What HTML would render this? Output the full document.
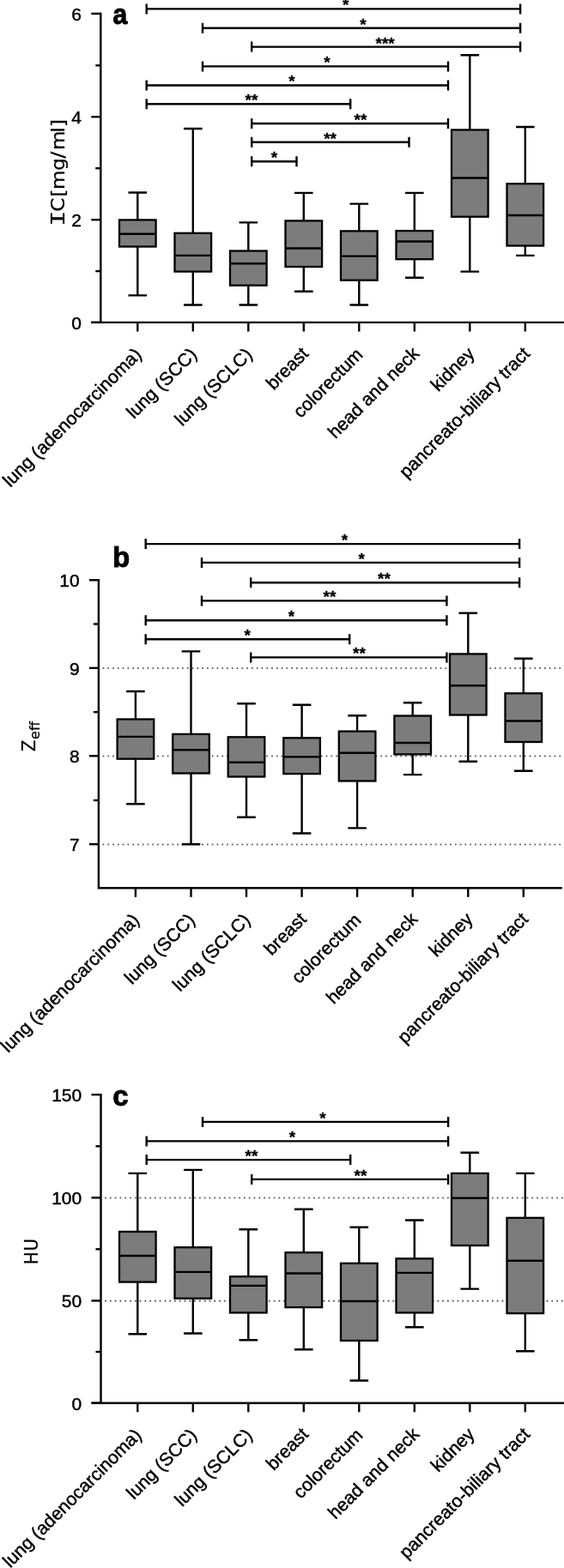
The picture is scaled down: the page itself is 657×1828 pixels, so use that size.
<!DOCTYPE html>
<html lang="en"><head><meta charset="utf-8"><title>Figure</title>
<style>
html,body{margin:0;padding:0;background:#fff}
svg{display:block}
text{font-family:"Liberation Sans",sans-serif;fill:#000;stroke:#000;stroke-width:0.45px;stroke-linejoin:round}
text.st{stroke-width:0.3px}
text.pl{stroke-width:0.9px;stroke-linejoin:miter}
.yt text{font-family:"DejaVu Sans","Liberation Sans",sans-serif;stroke-width:0.25px}
.yt text.mono{font-family:"DejaVu Sans Mono","Liberation Mono",monospace}
</style></head>
<body>
<svg width="657" height="1828" viewBox="0 0 657 1828">
<rect width="657" height="1828" fill="#fff"/>
<path d="M160.3 224.5V256.4M160.3 287.5V344.4M149.5 224.5H171.1M149.5 344.4H171.1" stroke="#000" stroke-width="2.4" fill="none"/>
<rect x="139.0" y="256.4" width="42.6" height="31.1" fill="#7c7c7c" stroke="#000" stroke-width="2.3"/>
<line x1="139.0" y1="272.8" x2="181.6" y2="272.8" stroke="#000" stroke-width="2.4"/>
<path d="M224.8 150.0V271.8M224.8 316.6V355.5M214.0 150.0H235.6M214.0 355.5H235.6" stroke="#000" stroke-width="2.4" fill="none"/>
<rect x="203.5" y="271.8" width="42.6" height="44.8" fill="#7c7c7c" stroke="#000" stroke-width="2.3"/>
<line x1="203.5" y1="297.9" x2="246.1" y2="297.9" stroke="#000" stroke-width="2.4"/>
<path d="M289.3 259.4V292.5M289.3 332.7V355.5M278.5 259.4H300.1M278.5 355.5H300.1" stroke="#000" stroke-width="2.4" fill="none"/>
<rect x="268.0" y="292.5" width="42.6" height="40.2" fill="#7c7c7c" stroke="#000" stroke-width="2.3"/>
<line x1="268.0" y1="307.3" x2="310.6" y2="307.3" stroke="#000" stroke-width="2.4"/>
<path d="M353.8 224.9V257.4M353.8 311.0V339.7M343.0 224.9H364.6M343.0 339.7H364.6" stroke="#000" stroke-width="2.4" fill="none"/>
<rect x="332.5" y="257.4" width="42.6" height="53.6" fill="#7c7c7c" stroke="#000" stroke-width="2.3"/>
<line x1="332.5" y1="289.5" x2="375.1" y2="289.5" stroke="#000" stroke-width="2.4"/>
<path d="M418.3 237.6V269.4M418.3 326.7V355.5M407.5 237.6H429.1M407.5 355.5H429.1" stroke="#000" stroke-width="2.4" fill="none"/>
<rect x="397.0" y="269.4" width="42.6" height="57.3" fill="#7c7c7c" stroke="#000" stroke-width="2.3"/>
<line x1="397.0" y1="298.6" x2="439.6" y2="298.6" stroke="#000" stroke-width="2.4"/>
<path d="M482.8 224.9V269.1M482.8 302.2V323.7M472.0 224.9H493.6M472.0 323.7H493.6" stroke="#000" stroke-width="2.4" fill="none"/>
<rect x="461.5" y="269.1" width="42.6" height="33.1" fill="#7c7c7c" stroke="#000" stroke-width="2.3"/>
<line x1="461.5" y1="281.5" x2="504.1" y2="281.5" stroke="#000" stroke-width="2.4"/>
<path d="M547.3 64.3V151.4M547.3 252.7V316.6M536.5 64.3H558.1M536.5 316.6H558.1" stroke="#000" stroke-width="2.4" fill="none"/>
<rect x="526.0" y="151.4" width="42.6" height="101.3" fill="#7c7c7c" stroke="#000" stroke-width="2.3"/>
<line x1="526.0" y1="207.5" x2="568.6" y2="207.5" stroke="#000" stroke-width="2.4"/>
<path d="M611.8 148.0V214.2M611.8 286.5V297.9M601.0 148.0H622.6M601.0 297.9H622.6" stroke="#000" stroke-width="2.4" fill="none"/>
<rect x="590.5" y="214.2" width="42.6" height="72.3" fill="#7c7c7c" stroke="#000" stroke-width="2.3"/>
<line x1="590.5" y1="251.0" x2="633.1" y2="251.0" stroke="#000" stroke-width="2.4"/>
<path d="M117.3 14.7V375.9M106.3 375.9H657" stroke="#000" stroke-width="2.4" fill="none"/>
<line x1="106.3" y1="15.9" x2="117.3" y2="15.9" stroke="#000" stroke-width="2.4"/>
<text x="95.0" y="23.7" font-size="21" text-anchor="end">6</text>
<line x1="106.3" y1="136.2" x2="117.3" y2="136.2" stroke="#000" stroke-width="2.4"/>
<text x="95.0" y="144.0" font-size="21" text-anchor="end">4</text>
<line x1="106.3" y1="256.2" x2="117.3" y2="256.2" stroke="#000" stroke-width="2.4"/>
<text x="95.0" y="264.0" font-size="21" text-anchor="end">2</text>
<line x1="106.3" y1="375.9" x2="117.3" y2="375.9" stroke="#000" stroke-width="2.4"/>
<text x="95.0" y="383.7" font-size="21" text-anchor="end">0</text>
<line x1="111.3" y1="76.3" x2="117.3" y2="76.3" stroke="#000" stroke-width="2.4"/>
<line x1="111.3" y1="196.2" x2="117.3" y2="196.2" stroke="#000" stroke-width="2.4"/>
<line x1="111.3" y1="316.1" x2="117.3" y2="316.1" stroke="#000" stroke-width="2.4"/>
<line x1="160.3" y1="375.9" x2="160.3" y2="386.5" stroke="#000" stroke-width="2.4"/>
<text transform="translate(166.0 414.6) rotate(-45)" font-size="21.3" text-anchor="end">lung (adenocarcinoma)</text>
<line x1="224.8" y1="375.9" x2="224.8" y2="386.5" stroke="#000" stroke-width="2.4"/>
<text transform="translate(230.5 414.6) rotate(-45)" font-size="21.3" text-anchor="end">lung (SCC)</text>
<line x1="289.3" y1="375.9" x2="289.3" y2="386.5" stroke="#000" stroke-width="2.4"/>
<text transform="translate(295.0 414.6) rotate(-45)" font-size="21.3" text-anchor="end">lung (SCLC)</text>
<line x1="353.8" y1="375.9" x2="353.8" y2="386.5" stroke="#000" stroke-width="2.4"/>
<text transform="translate(360.5 413.6) rotate(-45)" font-size="21.3" text-anchor="end">breast</text>
<line x1="418.3" y1="375.9" x2="418.3" y2="386.5" stroke="#000" stroke-width="2.4"/>
<text transform="translate(423.9 414.7) rotate(-45)" font-size="21.3" text-anchor="end">colorectum</text>
<line x1="482.8" y1="375.9" x2="482.8" y2="386.5" stroke="#000" stroke-width="2.4"/>
<text transform="translate(489.6 413.5) rotate(-45)" font-size="21.3" text-anchor="end">head and neck</text>
<line x1="547.3" y1="375.9" x2="547.3" y2="386.5" stroke="#000" stroke-width="2.4"/>
<text transform="translate(554.0 413.6) rotate(-45)" font-size="21.3" text-anchor="end">kidney</text>
<line x1="611.8" y1="375.9" x2="611.8" y2="386.5" stroke="#000" stroke-width="2.4"/>
<text transform="translate(618.5 413.6) rotate(-45)" font-size="21.3" text-anchor="end">pancreato-biliary tract</text>
<path d="M170.7 10.4H606.1M170.7 4.4V16.4M606.1 4.4V16.4" stroke="#000" stroke-width="2.4" fill="none"/>
<text x="402.8" y="12.3" class="st" font-size="19" font-weight="bold" text-anchor="middle">*</text>
<path d="M236.0 32.8H606.1M236.0 26.8V38.8M606.1 26.8V38.8" stroke="#000" stroke-width="2.4" fill="none"/>
<text x="423.0" y="34.7" class="st" font-size="19" font-weight="bold" text-anchor="middle">*</text>
<path d="M293.2 54.6H606.1M293.2 48.6V60.6M606.1 48.6V60.6" stroke="#000" stroke-width="2.4" fill="none"/>
<text x="448.6" y="56.5" class="st" font-size="19" font-weight="bold" text-anchor="middle">***</text>
<path d="M236.0 77.4H522.0M236.0 71.4V83.4M522.0 71.4V83.4" stroke="#000" stroke-width="2.4" fill="none"/>
<text x="381.0" y="79.3" class="st" font-size="19" font-weight="bold" text-anchor="middle">*</text>
<path d="M170.7 99.5H522.0M170.7 93.5V105.5M522.0 93.5V105.5" stroke="#000" stroke-width="2.4" fill="none"/>
<text x="340.0" y="101.4" class="st" font-size="19" font-weight="bold" text-anchor="middle">*</text>
<path d="M170.7 121.2H408.2M170.7 115.2V127.2M408.2 115.2V127.2" stroke="#000" stroke-width="2.4" fill="none"/>
<text x="293.0" y="123.1" class="st" font-size="19" font-weight="bold" text-anchor="middle">**</text>
<path d="M293.2 144.0H522.0M293.2 138.0V150.0M522.0 138.0V150.0" stroke="#000" stroke-width="2.4" fill="none"/>
<text x="420.0" y="145.9" class="st" font-size="19" font-weight="bold" text-anchor="middle">**</text>
<path d="M293.2 165.8H476.5M293.2 159.8V171.8M476.5 159.8V171.8" stroke="#000" stroke-width="2.4" fill="none"/>
<text x="384.6" y="167.7" class="st" font-size="19" font-weight="bold" text-anchor="middle">**</text>
<path d="M293.2 188.2H345.5M293.2 182.2V194.2M345.5 182.2V194.2" stroke="#000" stroke-width="2.4" fill="none"/>
<text x="319.4" y="190.1" class="st" font-size="19" font-weight="bold" text-anchor="middle">*</text>
<text transform="translate(131.6 27.7) scale(0.94 1.04)" class="pl" font-size="32" font-weight="bold">a</text>
<line x1="120.45" y1="779.05" x2="656" y2="779.05" stroke="#5c5c5c" stroke-width="2.1" stroke-linecap="round" stroke-dasharray="0.01 5.77"/>
<line x1="120.45" y1="881.55" x2="656" y2="881.55" stroke="#5c5c5c" stroke-width="2.1" stroke-linecap="round" stroke-dasharray="0.01 5.77"/>
<line x1="120.45" y1="984.45" x2="656" y2="984.45" stroke="#5c5c5c" stroke-width="2.1" stroke-linecap="round" stroke-dasharray="0.01 5.77"/>
<path d="M157.9 806.0V838.5M157.9 884.7V937.3M147.1 806.0H168.7M147.1 937.3H168.7" stroke="#000" stroke-width="2.4" fill="none"/>
<rect x="136.6" y="838.5" width="42.6" height="46.2" fill="#7c7c7c" stroke="#000" stroke-width="2.3"/>
<line x1="136.6" y1="858.9" x2="179.2" y2="858.9" stroke="#000" stroke-width="2.4"/>
<path d="M222.5 759.4V855.9M222.5 901.5V984.2M211.7 759.4H233.3M211.7 984.2H233.3" stroke="#000" stroke-width="2.4" fill="none"/>
<rect x="201.2" y="855.9" width="42.6" height="45.6" fill="#7c7c7c" stroke="#000" stroke-width="2.3"/>
<line x1="201.2" y1="874.3" x2="243.8" y2="874.3" stroke="#000" stroke-width="2.4"/>
<path d="M287.0 820.2V859.3M287.0 905.5V952.7M276.2 820.2H297.8M276.2 952.7H297.8" stroke="#000" stroke-width="2.4" fill="none"/>
<rect x="265.7" y="859.3" width="42.6" height="46.2" fill="#7c7c7c" stroke="#000" stroke-width="2.3"/>
<line x1="265.7" y1="888.7" x2="308.3" y2="888.7" stroke="#000" stroke-width="2.4"/>
<path d="M351.6 821.8V860.3M351.6 902.1V971.5M340.8 821.8H362.4M340.8 971.5H362.4" stroke="#000" stroke-width="2.4" fill="none"/>
<rect x="330.3" y="860.3" width="42.6" height="41.8" fill="#7c7c7c" stroke="#000" stroke-width="2.3"/>
<line x1="330.3" y1="882.4" x2="372.9" y2="882.4" stroke="#000" stroke-width="2.4"/>
<path d="M416.1 834.2V852.6M416.1 910.5V965.4M405.3 834.2H426.9M405.3 965.4H426.9" stroke="#000" stroke-width="2.4" fill="none"/>
<rect x="394.8" y="852.6" width="42.6" height="57.9" fill="#7c7c7c" stroke="#000" stroke-width="2.3"/>
<line x1="394.8" y1="877.7" x2="437.4" y2="877.7" stroke="#000" stroke-width="2.4"/>
<path d="M480.7 819.2V834.5M480.7 879.4V903.1M469.9 819.2H491.5M469.9 903.1H491.5" stroke="#000" stroke-width="2.4" fill="none"/>
<rect x="459.4" y="834.5" width="42.6" height="44.9" fill="#7c7c7c" stroke="#000" stroke-width="2.3"/>
<line x1="459.4" y1="866.0" x2="502.0" y2="866.0" stroke="#000" stroke-width="2.4"/>
<path d="M545.3 714.8V762.4M545.3 833.5V887.7M534.5 714.8H556.1M534.5 887.7H556.1" stroke="#000" stroke-width="2.4" fill="none"/>
<rect x="524.0" y="762.4" width="42.6" height="71.1" fill="#7c7c7c" stroke="#000" stroke-width="2.3"/>
<line x1="524.0" y1="799.2" x2="566.6" y2="799.2" stroke="#000" stroke-width="2.4"/>
<path d="M609.8 767.7V808.3M609.8 865.0V898.8M599.0 767.7H620.6M599.0 898.8H620.6" stroke="#000" stroke-width="2.4" fill="none"/>
<rect x="588.5" y="808.3" width="42.6" height="56.7" fill="#7c7c7c" stroke="#000" stroke-width="2.3"/>
<line x1="588.5" y1="840.5" x2="631.1" y2="840.5" stroke="#000" stroke-width="2.4"/>
<path d="M114.9 675.1V1036.4M113.7 1035.2H654.8" stroke="#000" stroke-width="2.4" fill="none"/>
<line x1="103.9" y1="676.3" x2="114.9" y2="676.3" stroke="#000" stroke-width="2.4"/>
<text x="92.6" y="684.1" font-size="21" text-anchor="end">10</text>
<line x1="103.9" y1="778.8" x2="114.9" y2="778.8" stroke="#000" stroke-width="2.4"/>
<text x="92.6" y="786.6" font-size="21" text-anchor="end">9</text>
<line x1="103.9" y1="881.3" x2="114.9" y2="881.3" stroke="#000" stroke-width="2.4"/>
<text x="92.6" y="889.1" font-size="21" text-anchor="end">8</text>
<line x1="103.9" y1="984.2" x2="114.9" y2="984.2" stroke="#000" stroke-width="2.4"/>
<text x="92.6" y="992.0" font-size="21" text-anchor="end">7</text>
<line x1="108.9" y1="727.5" x2="114.9" y2="727.5" stroke="#000" stroke-width="2.4"/>
<line x1="108.9" y1="830.1" x2="114.9" y2="830.1" stroke="#000" stroke-width="2.4"/>
<line x1="108.9" y1="933.0" x2="114.9" y2="933.0" stroke="#000" stroke-width="2.4"/>
<line x1="157.9" y1="1035.2" x2="157.9" y2="1045.8" stroke="#000" stroke-width="2.4"/>
<text transform="translate(163.6 1073.9) rotate(-45)" font-size="21.3" text-anchor="end">lung (adenocarcinoma)</text>
<line x1="222.5" y1="1035.2" x2="222.5" y2="1045.8" stroke="#000" stroke-width="2.4"/>
<text transform="translate(228.2 1073.9) rotate(-45)" font-size="21.3" text-anchor="end">lung (SCC)</text>
<line x1="287.0" y1="1035.2" x2="287.0" y2="1045.8" stroke="#000" stroke-width="2.4"/>
<text transform="translate(292.7 1073.9) rotate(-45)" font-size="21.3" text-anchor="end">lung (SCLC)</text>
<line x1="351.6" y1="1035.2" x2="351.6" y2="1045.8" stroke="#000" stroke-width="2.4"/>
<text transform="translate(358.2 1072.9) rotate(-45)" font-size="21.3" text-anchor="end">breast</text>
<line x1="416.1" y1="1035.2" x2="416.1" y2="1045.8" stroke="#000" stroke-width="2.4"/>
<text transform="translate(421.8 1074.0) rotate(-45)" font-size="21.3" text-anchor="end">colorectum</text>
<line x1="480.7" y1="1035.2" x2="480.7" y2="1045.8" stroke="#000" stroke-width="2.4"/>
<text transform="translate(487.5 1072.8) rotate(-45)" font-size="21.3" text-anchor="end">head and neck</text>
<line x1="545.3" y1="1035.2" x2="545.3" y2="1045.8" stroke="#000" stroke-width="2.4"/>
<text transform="translate(552.0 1072.9) rotate(-45)" font-size="21.3" text-anchor="end">kidney</text>
<line x1="609.8" y1="1035.2" x2="609.8" y2="1045.8" stroke="#000" stroke-width="2.4"/>
<text transform="translate(616.5 1072.9) rotate(-45)" font-size="21.3" text-anchor="end">pancreato-biliary tract</text>
<path d="M169.7 634.1H605.1M169.7 628.1V640.1M605.1 628.1V640.1" stroke="#000" stroke-width="2.4" fill="none"/>
<text x="401.5" y="636.0" class="st" font-size="19" font-weight="bold" text-anchor="middle">*</text>
<path d="M235.0 655.9H605.1M235.0 649.9V661.9M605.1 649.9V661.9" stroke="#000" stroke-width="2.4" fill="none"/>
<text x="421.2" y="657.8" class="st" font-size="19" font-weight="bold" text-anchor="middle">*</text>
<path d="M292.2 679.3H605.1M292.2 673.3V685.3M605.1 673.3V685.3" stroke="#000" stroke-width="2.4" fill="none"/>
<text x="447.5" y="681.2" class="st" font-size="19" font-weight="bold" text-anchor="middle">**</text>
<path d="M235.0 700.4H520.4M235.0 694.4V706.4M520.4 694.4V706.4" stroke="#000" stroke-width="2.4" fill="none"/>
<text x="384.0" y="702.3" class="st" font-size="19" font-weight="bold" text-anchor="middle">**</text>
<path d="M169.7 723.2H520.4M169.7 717.2V729.2M520.4 717.2V729.2" stroke="#000" stroke-width="2.4" fill="none"/>
<text x="339.5" y="725.1" class="st" font-size="19" font-weight="bold" text-anchor="middle">*</text>
<path d="M169.7 745.3H407.2M169.7 739.3V751.3M407.2 739.3V751.3" stroke="#000" stroke-width="2.4" fill="none"/>
<text x="288.2" y="747.2" class="st" font-size="19" font-weight="bold" text-anchor="middle">*</text>
<path d="M292.2 766.4H520.4M292.2 760.4V772.4M520.4 760.4V772.4" stroke="#000" stroke-width="2.4" fill="none"/>
<text x="418.5" y="768.3" class="st" font-size="19" font-weight="bold" text-anchor="middle">**</text>
<text transform="translate(131.2 660.6) scale(1.02 1.02)" class="pl" font-size="32" font-weight="bold">b</text>
<line x1="123.05" y1="1396.55" x2="656" y2="1396.55" stroke="#5c5c5c" stroke-width="2.1" stroke-linecap="round" stroke-dasharray="0.01 5.77"/>
<line x1="123.05" y1="1516.65" x2="656" y2="1516.65" stroke="#5c5c5c" stroke-width="2.1" stroke-linecap="round" stroke-dasharray="0.01 5.77"/>
<path d="M160.3 1367.9V1435.9M160.3 1494.6V1555.2M149.5 1367.9H171.1M149.5 1555.2H171.1" stroke="#000" stroke-width="2.4" fill="none"/>
<rect x="139.0" y="1435.9" width="42.6" height="58.7" fill="#7c7c7c" stroke="#000" stroke-width="2.3"/>
<line x1="139.0" y1="1464.0" x2="181.6" y2="1464.0" stroke="#000" stroke-width="2.4"/>
<path d="M224.8 1363.9V1454.2M224.8 1513.7V1554.5M214.0 1363.9H235.6M214.0 1554.5H235.6" stroke="#000" stroke-width="2.4" fill="none"/>
<rect x="203.5" y="1454.2" width="42.6" height="59.5" fill="#7c7c7c" stroke="#000" stroke-width="2.3"/>
<line x1="203.5" y1="1482.9" x2="246.1" y2="1482.9" stroke="#000" stroke-width="2.4"/>
<path d="M289.3 1433.2V1488.2M289.3 1530.4V1562.2M278.5 1433.2H300.1M278.5 1562.2H300.1" stroke="#000" stroke-width="2.4" fill="none"/>
<rect x="268.0" y="1488.2" width="42.6" height="42.2" fill="#7c7c7c" stroke="#000" stroke-width="2.3"/>
<line x1="268.0" y1="1498.9" x2="310.6" y2="1498.9" stroke="#000" stroke-width="2.4"/>
<path d="M353.8 1409.7V1460.2M353.8 1524.1V1573.3M343.0 1409.7H364.6M343.0 1573.3H364.6" stroke="#000" stroke-width="2.4" fill="none"/>
<rect x="332.5" y="1460.2" width="42.6" height="63.9" fill="#7c7c7c" stroke="#000" stroke-width="2.3"/>
<line x1="332.5" y1="1484.5" x2="375.1" y2="1484.5" stroke="#000" stroke-width="2.4"/>
<path d="M418.3 1430.8V1472.8M418.3 1562.9V1609.5M407.5 1430.8H429.1M407.5 1609.5H429.1" stroke="#000" stroke-width="2.4" fill="none"/>
<rect x="397.0" y="1472.8" width="42.6" height="90.1" fill="#7c7c7c" stroke="#000" stroke-width="2.3"/>
<line x1="397.0" y1="1517.0" x2="439.6" y2="1517.0" stroke="#000" stroke-width="2.4"/>
<path d="M482.8 1422.5V1467.3M482.8 1530.4V1547.2M472.0 1422.5H493.6M472.0 1547.2H493.6" stroke="#000" stroke-width="2.4" fill="none"/>
<rect x="461.5" y="1467.3" width="42.6" height="63.1" fill="#7c7c7c" stroke="#000" stroke-width="2.3"/>
<line x1="461.5" y1="1483.9" x2="504.1" y2="1483.9" stroke="#000" stroke-width="2.4"/>
<path d="M547.3 1343.8V1367.9M547.3 1452.0V1502.6M536.5 1343.8H558.1M536.5 1502.6H558.1" stroke="#000" stroke-width="2.4" fill="none"/>
<rect x="526.0" y="1367.9" width="42.6" height="84.1" fill="#7c7c7c" stroke="#000" stroke-width="2.3"/>
<line x1="526.0" y1="1396.7" x2="568.6" y2="1396.7" stroke="#000" stroke-width="2.4"/>
<path d="M611.8 1367.9V1419.8M611.8 1531.1V1575.3M601.0 1367.9H622.6M601.0 1575.3H622.6" stroke="#000" stroke-width="2.4" fill="none"/>
<rect x="590.5" y="1419.8" width="42.6" height="111.3" fill="#7c7c7c" stroke="#000" stroke-width="2.3"/>
<line x1="590.5" y1="1469.8" x2="633.1" y2="1469.8" stroke="#000" stroke-width="2.4"/>
<path d="M117.5 1275.0V1635.7M106.5 1635.7H657" stroke="#000" stroke-width="2.4" fill="none"/>
<line x1="106.5" y1="1276.2" x2="117.5" y2="1276.2" stroke="#000" stroke-width="2.4"/>
<text x="95.2" y="1284.0" font-size="21" text-anchor="end">150</text>
<line x1="106.5" y1="1396.3" x2="117.5" y2="1396.3" stroke="#000" stroke-width="2.4"/>
<text x="95.2" y="1404.1" font-size="21" text-anchor="end">100</text>
<line x1="106.5" y1="1516.4" x2="117.5" y2="1516.4" stroke="#000" stroke-width="2.4"/>
<text x="95.2" y="1524.2" font-size="21" text-anchor="end">50</text>
<line x1="106.5" y1="1635.7" x2="117.5" y2="1635.7" stroke="#000" stroke-width="2.4"/>
<text x="95.2" y="1643.5" font-size="21" text-anchor="end">0</text>
<line x1="111.5" y1="1336.3" x2="117.5" y2="1336.3" stroke="#000" stroke-width="2.4"/>
<line x1="111.5" y1="1456.3" x2="117.5" y2="1456.3" stroke="#000" stroke-width="2.4"/>
<line x1="111.5" y1="1576.0" x2="117.5" y2="1576.0" stroke="#000" stroke-width="2.4"/>
<line x1="160.3" y1="1635.7" x2="160.3" y2="1646.3" stroke="#000" stroke-width="2.4"/>
<text transform="translate(166.0 1674.4) rotate(-45)" font-size="21.3" text-anchor="end">lung (adenocarcinoma)</text>
<line x1="224.8" y1="1635.7" x2="224.8" y2="1646.3" stroke="#000" stroke-width="2.4"/>
<text transform="translate(230.5 1674.4) rotate(-45)" font-size="21.3" text-anchor="end">lung (SCC)</text>
<line x1="289.3" y1="1635.7" x2="289.3" y2="1646.3" stroke="#000" stroke-width="2.4"/>
<text transform="translate(295.0 1674.4) rotate(-45)" font-size="21.3" text-anchor="end">lung (SCLC)</text>
<line x1="353.8" y1="1635.7" x2="353.8" y2="1646.3" stroke="#000" stroke-width="2.4"/>
<text transform="translate(360.5 1673.4) rotate(-45)" font-size="21.3" text-anchor="end">breast</text>
<line x1="418.3" y1="1635.7" x2="418.3" y2="1646.3" stroke="#000" stroke-width="2.4"/>
<text transform="translate(423.9 1674.5) rotate(-45)" font-size="21.3" text-anchor="end">colorectum</text>
<line x1="482.8" y1="1635.7" x2="482.8" y2="1646.3" stroke="#000" stroke-width="2.4"/>
<text transform="translate(489.6 1673.3) rotate(-45)" font-size="21.3" text-anchor="end">head and neck</text>
<line x1="547.3" y1="1635.7" x2="547.3" y2="1646.3" stroke="#000" stroke-width="2.4"/>
<text transform="translate(554.0 1673.4) rotate(-45)" font-size="21.3" text-anchor="end">kidney</text>
<line x1="611.8" y1="1635.7" x2="611.8" y2="1646.3" stroke="#000" stroke-width="2.4"/>
<text transform="translate(618.5 1673.4) rotate(-45)" font-size="21.3" text-anchor="end">pancreato-biliary tract</text>
<path d="M236.0 1307.9H522.1M236.0 1301.9V1313.9M522.1 1301.9V1313.9" stroke="#000" stroke-width="2.4" fill="none"/>
<text x="376.0" y="1309.8" class="st" font-size="19" font-weight="bold" text-anchor="middle">*</text>
<path d="M170.7 1330.4H522.1M170.7 1324.4V1336.4M522.1 1324.4V1336.4" stroke="#000" stroke-width="2.4" fill="none"/>
<text x="340.5" y="1332.3" class="st" font-size="19" font-weight="bold" text-anchor="middle">*</text>
<path d="M170.7 1352.1H408.2M170.7 1346.1V1358.1M408.2 1346.1V1358.1" stroke="#000" stroke-width="2.4" fill="none"/>
<text x="292.9" y="1354.0" class="st" font-size="19" font-weight="bold" text-anchor="middle">**</text>
<path d="M293.2 1374.9H522.1M293.2 1368.9V1380.9M522.1 1368.9V1380.9" stroke="#000" stroke-width="2.4" fill="none"/>
<text x="419.9" y="1376.8" class="st" font-size="19" font-weight="bold" text-anchor="middle">**</text>
<text transform="translate(131.3 1288.6) scale(1.03 1.06)" class="pl" font-size="32" font-weight="bold">c</text>
<g class="yt">
<text class="mono" transform="translate(75 263.4) rotate(-90) scale(1.33 1)" font-size="22">I</text><text transform="translate(75 262) rotate(-90) scale(1.05 1)" font-size="22" x="14.48 26.67 31.05 39.05 60.29 73.90 82.76 102.10 108.57">C [mg/ml]</text>
<text transform="translate(41.4 875.9) rotate(-90) scale(0.88 1)" font-size="22">Z</text><text transform="translate(46.3 861.9) rotate(-90)" font-size="16">eff</text>
<text transform="translate(44.2 1474.2) rotate(-90) scale(0.9 1)" font-size="22" x="0 17.4">HU</text>
</g>
</svg>
</body></html>
